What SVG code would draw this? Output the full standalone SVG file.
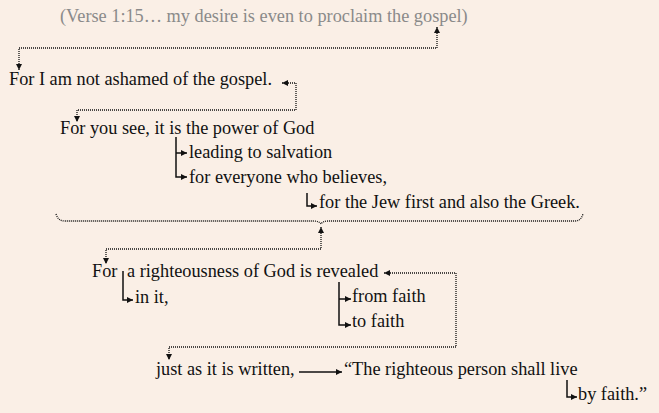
<svg xmlns="http://www.w3.org/2000/svg" width="659" height="413" viewBox="0 0 659 413">
<defs>
<style>
text{font-family:"Liberation Serif","Times New Roman",serif;font-size:18.3px;fill:#111}
.gray{fill:#8a8a8a}
.dot{fill:none;stroke:#111;stroke-width:1.3;stroke-dasharray:1 1}
.sol{fill:none;stroke:#111;stroke-width:1.5}
</style>
<marker id="ah" viewBox="0 0 6 6" refX="6" refY="3" markerWidth="6" markerHeight="6" markerUnits="userSpaceOnUse" orient="auto-start-reverse">
<path d="M0,0 L6,3 L0,6 z" fill="#111"/>
</marker>
</defs>
<rect width="659" height="413" fill="#FAEFE6"/>
<g id="n-verse115"><text class="gray" x="60" y="22">(Verse 1:15… my desire is even to proclaim the gospel)</text></g>
<g id="n-ashamed"><text x="9" y="85">For I am not ashamed of the gospel.</text></g>
<g id="n-power"><text x="60" y="134">For you see, it is the power of God</text></g>
<g id="n-salvation"><text x="189" y="158">leading to salvation</text></g>
<g id="n-everyone"><text x="189" y="183">for everyone who believes,</text></g>
<g id="n-jew"><text x="319" y="208">for the Jew first and also the Greek.</text></g>
<g id="n-for"><text x="92" y="277">For</text></g>
<g id="n-righteousness"><text x="127" y="277">a righteousness of God is revealed</text></g>
<g id="n-init"><text x="135" y="303">in it,</text></g>
<g id="n-fromfaith"><text x="352" y="302">from faith</text></g>
<g id="n-tofaith"><text x="352" y="327">to faith</text></g>
<g id="n-written"><text x="156" y="375">just as it is written,</text></g>
<g id="n-live"><text x="344" y="375">“The righteous person shall live</text></g>
<g id="n-byfaith"><text x="578" y="400">by faith.”</text></g>
<g id="connectors">
<path class="dot" d="M437,27 L437,48 L19,48 L19,70" marker-start="url(#ah)" marker-end="url(#ah)"/>
<path class="dot" d="M282,83 L296,83 L296,110 L77,110 L77,122" marker-start="url(#ah)" marker-end="url(#ah)"/>
<path class="dot" d="M56,214 Q58,221 65,221 L314,221 Q319,221 321,224 Q323,221 328,221 L575,221 Q581,221 583,214"/>
<path class="dot" d="M321,227 L321,249 L106,249 L106,264" marker-start="url(#ah)" marker-end="url(#ah)"/>
<path class="dot" d="M384,273 L456,273 L456,347 L169,347 L169,360" marker-start="url(#ah)" marker-end="url(#ah)"/>
<path class="sol" d="M176,137 L176,177 L187,177" marker-end="url(#ah)"/>
<path class="sol" d="M176,153 L187,153" marker-end="url(#ah)"/>
<path class="sol" d="M307,193 L307,206 L317,206" marker-end="url(#ah)"/>
<path class="sol" d="M123,271 L123,300 L133,300" marker-end="url(#ah)"/>
<path class="sol" d="M339,282 L339,325 L351,325" marker-end="url(#ah)"/>
<path class="sol" d="M339,299 L351,299" marker-end="url(#ah)"/>
<path class="sol" d="M299,372 L342,372" marker-end="url(#ah)"/>
<path class="sol" d="M567,380 L567,397 L577,397" marker-end="url(#ah)"/>
</g>
</svg>
